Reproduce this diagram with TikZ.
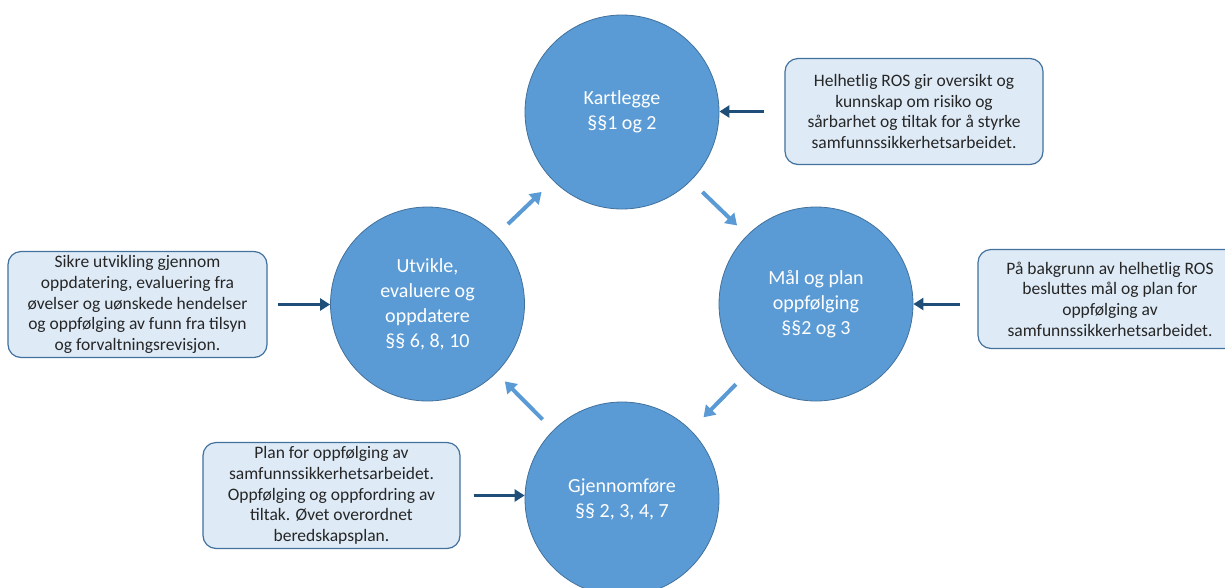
\documentclass[tikz,border=0pt]{standalone}
\usepackage{fontspec}
\setmainfont{Carlito}
\usetikzlibrary{arrows.meta}
\definecolor{circfill}{HTML}{5B9BD5}
\definecolor{circline}{HTML}{41719C}
\definecolor{boxfill}{HTML}{DEEBF7}
\definecolor{boxline}{HTML}{41719C}
\definecolor{darkarr}{HTML}{1F4E79}
\definecolor{lightarr}{HTML}{5B9BD5}
\definecolor{boxtext}{HTML}{262626}
\begin{document}
\begin{tikzpicture}[x=1pt,y=-1pt,
  phase/.style={circle,fill=circfill,draw=circline,line width=0.8pt,minimum size=194pt,inner sep=0pt,
    text=white,align=center,font=\fontsize{20}{25}\selectfont},
  infobox/.style={rounded corners=13pt,fill=boxfill,draw=boxline,line width=1.2pt,minimum width=258pt,
    minimum height=106pt,align=center,text=boxtext,font=\fontsize{17.5}{20.7}\selectfont,inner sep=2pt},
  darrow/.style={draw=darkarr,line width=3pt,-{Triangle[length=10pt,width=12pt]}},
  larrow/.style={draw=lightarr,line width=4pt,-{Triangle[length=11pt,width=14pt]}}]
\useasboundingbox (0,0) rectangle (1225,587);
\fill[white] (0,0) rectangle (1225,587);

\node[phase] (k) at (622,112) {Kartlegge\\§§1 og 2};
\node[phase] (m) at (816,304) {Mål og plan\\oppfølging\\§§2 og 3};
\node[phase] (g) at (622,499) {Gjennomføre\\§§ 2, 3, 4, 7};
\node[phase] (u) at (427.5,304) {Utvikle,\\evaluere og\\oppdatere\\§§ 6, 8, 10};

\node[infobox] (bk) at (914,111.5) {Helhetlig ROS gir oversikt og\\kunnskap om risiko og\\sårbarhet og tiltak for å styrke\\samfunnssikkerhetsarbeidet.};
\node[infobox,minimum width=264pt,minimum height=99pt] (bm) at (1110,299) {På bakgrunn av helhetlig ROS\\besluttes mål og plan for\\oppfølging av\\samfunnssikkerhetsarbeidet.};
\node[infobox,minimum width=259pt] (bu) at (137.5,304.5) {Sikre utvikling gjennom\\oppdatering, evaluering fra\\øvelser og uønskede hendelser\\og oppfølging av funn fra tilsyn\\og forvaltningsrevisjon.};
\node[infobox,minimum width=257pt] (bg) at (331.5,495.5) {Plan for oppfølging av\\samfunnssikkerhetsarbeidet.\\Oppfølging og oppfordring av\\tiltak. Øvet overordnet\\beredskapsplan.};

\draw[darrow,shorten <=20pt] (bk.west) -- (k.east |- bk.west);
\draw[darrow,shorten <=17pt] (bm.west |- m) -- (m.east);
\draw[darrow,shorten <=10pt] (bu.east) -- (u.west |- bu.east);
\draw[darrow,shorten <=13pt] (bg.east) -- (g.west |- bg.east);

\draw[larrow,shorten <=16pt,shorten >=14pt] (k.-45) -- (m.135);
\draw[larrow,shorten <=16pt,shorten >=18pt] (m.-135) -- (g.45);
\draw[larrow,shorten <=15pt,shorten >=12pt] (g.135) -- (u.-45);
\draw[larrow,shorten <=16pt,shorten >=16pt] (u.45) -- (k.-135);
\end{tikzpicture}
\end{document}
